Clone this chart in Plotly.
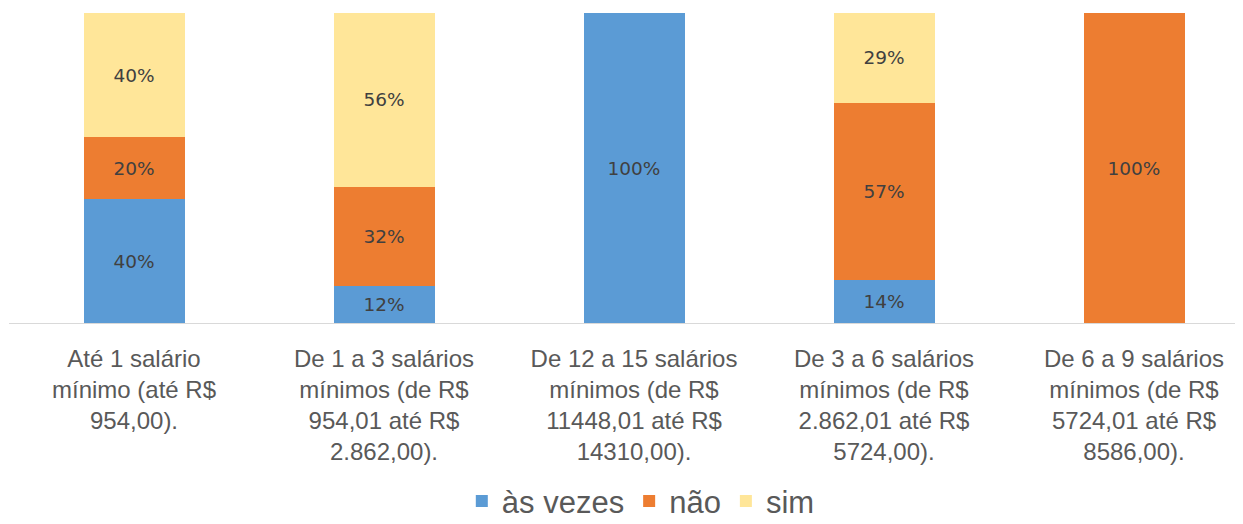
import plotly.graph_objects as go

categories = [
    "Até 1 salário<br>mínimo (até R$<br>954,00).",
    "De 1 a 3 salários<br>mínimos (de R$<br>954,01 até R$<br>2.862,00).",
    "De 12 a 15 salários<br>mínimos (de R$<br>11448,01 até R$<br>14310,00).",
    "De 3 a 6 salários<br>mínimos (de R$<br>2.862,01 até R$<br>5724,00).",
    "De 6 a 9 salários<br>mínimos (de R$<br>5724,01 até R$<br>8586,00).",
]
as_vezes = [40, 12, 100, 14, 0]
nao = [20, 32, 0, 57, 100]
sim = [40, 56, 0, 29, 0]

series = [
    ("às vezes", as_vezes, "#5B9BD5"),
    ("não", nao, "#ED7D31"),
    ("sim", sim, "#FFE699"),
]

x = list(range(len(categories)))
fig = go.Figure()
for name, vals, color in series:
    fig.add_trace(go.Bar(
        x=x, y=vals, name=name, marker=dict(color=color, line=dict(width=0)),
        width=0.404,
        text=[f"{v}%" if v > 0 else "" for v in vals],
        textposition="inside", insidetextanchor="middle",
        textfont=dict(family="DejaVu Sans", size=18.5, color="#404040"),
        constraintext="none",
    ))

fig.update_layout(
    barmode="stack",
    width=1243, height=524,
    margin=dict(l=1, r=8, t=5, b=209, autoexpand=False),
    plot_bgcolor="white", paper_bgcolor="white",
    showlegend=True,
    legend=dict(orientation="h", x=0.512, xanchor="center", y=-0.575, yanchor="middle",
                font=dict(family="Liberation Sans", size=31, color="#595959"),
                itemwidth=30, traceorder="normal"),
    uniformtext=dict(mode=False),
)
fig.update_xaxes(
    tickmode="array", tickvals=x, ticktext=categories,
    range=[-0.5, 4.436], showline=True, linecolor="#D9D9D9", linewidth=1,
    ticks="", showgrid=False, zeroline=False, automargin=False,
    ticklabelstandoff=14,
    tickfont=dict(family="Liberation Sans", size=24, color="#595959"),
)
fig.update_yaxes(range=[0, 100], visible=False, showgrid=False)
fig.write_html("out.html")
